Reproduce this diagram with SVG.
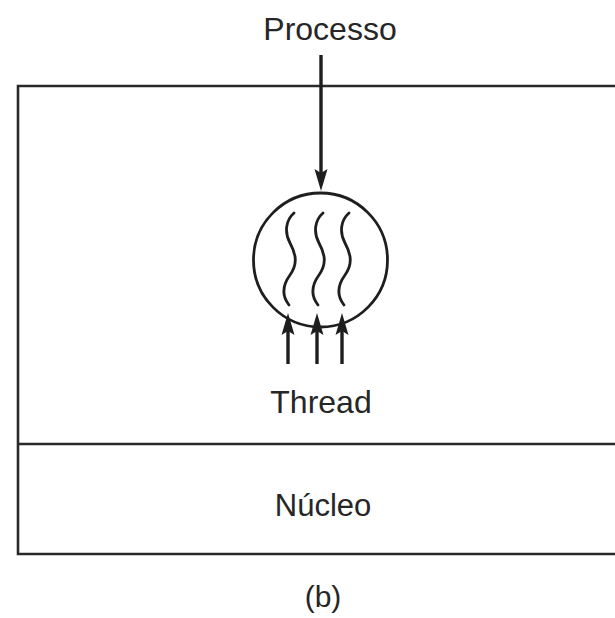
<svg xmlns="http://www.w3.org/2000/svg" width="615" height="618" viewBox="0 0 615 618">
<style>
.t{font-family:"Liberation Sans",Arial,sans-serif;fill:#262626;text-anchor:middle}
.box{fill:none;stroke:#2a2a2a;stroke-width:2.6}
.ln{fill:none;stroke:#1e1e1e;stroke-width:3.4}
.sq{fill:none;stroke:#1e1e1e;stroke-width:2.8;stroke-linecap:round}
.hd{fill:#1e1e1e}
</style>
<rect width="615" height="618" fill="#fff"/>
<g id="process-box">
<path class="box" d="M620 86 H18 V554 H620"/>
<path class="box" d="M18 444 H620"/>
</g>
<g id="processo-label"><text class="t" x="330" y="40" font-size="32">Processo</text></g>
<g id="process-circle">
<circle cx="320.5" cy="260" r="67" fill="none" stroke="#1e1e1e" stroke-width="2.8"/>
<path class="sq" d="M294 213 C286 220,284 232,290 243 S298 264,290 275 S282 296,289 305"/>
<path class="sq" d="M323 213 C315 220,313 232,319 243 S327 264,319 275 S311 296,318 305"/>
<path class="sq" d="M349 213 C341 220,339 232,345 243 S353 264,345 275 S337 296,344 305"/>
</g>
<g id="thread-label"><text class="t" x="321" y="413" font-size="32">Thread</text></g>
<g id="nucleo"><text class="t" x="323" y="516" font-size="31">Núcleo</text></g>
<g id="caption"><text class="t" x="323" y="607" font-size="30">(b)</text></g>
<g id="connectors">
<line class="ln" x1="321" y1="55" x2="321" y2="176"/>
<polygon class="hd" points="321,191 314.5,169 321,173 327.5,169"/>
<line class="ln" x1="288" y1="364" x2="288" y2="328"/>
<polygon class="hd" points="288,313 281.5,335 288,331 294.5,335"/>
<line class="ln" x1="317" y1="364" x2="317" y2="328"/>
<polygon class="hd" points="317,313 310.5,335 317,331 323.5,335"/>
<line class="ln" x1="342" y1="364" x2="342" y2="328"/>
<polygon class="hd" points="342,313 335.5,335 342,331 348.5,335"/>
</g>
</svg>
